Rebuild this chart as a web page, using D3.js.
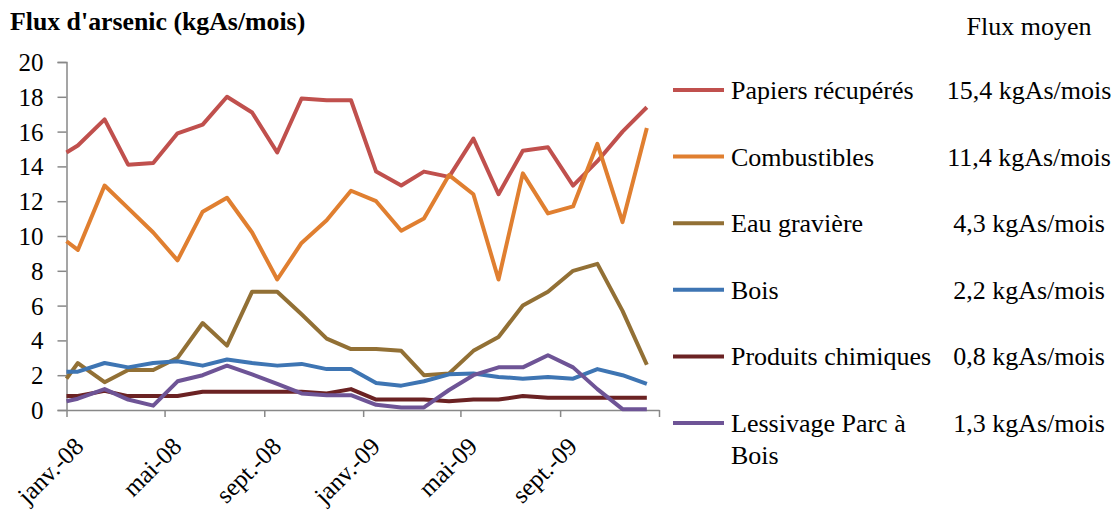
<!DOCTYPE html>
<html><head><meta charset="utf-8">
<script src="https://cdn.jsdelivr.net/npm/d3@7"></script>
<style>
body{margin:0;background:#fff;}
svg text{font-family:"Liberation Serif","Times New Roman",serif;fill:#000;}
</style></head>
<body><svg id="c" width="1120" height="517"></svg>
<script>
const dates = ["2008-01-01","2008-01-15","2008-02-17","2008-03-17","2008-04-17","2008-05-17","2008-06-17","2008-07-17","2008-08-17","2008-09-17","2008-10-17","2008-11-17","2008-12-17",
"2009-01-17","2009-02-17","2009-03-17","2009-04-17","2009-05-17","2009-06-17","2009-07-17","2009-08-17","2009-09-17","2009-10-17","2009-11-17","2009-12-17"];
const papiers = [14.8,15.2,16.7,14.1,14.2,15.9,16.4,18.0,17.1,14.8,17.9,17.8,17.8,13.7,12.9,13.7,13.4,15.6,12.4,14.9,15.1,12.9,14.3,16.0,17.4];
const combustibles = [9.7,9.2,12.9,11.6,10.2,8.6,11.4,12.2,10.2,7.5,9.6,10.9,12.6,12.0,10.3,11.0,13.5,12.4,7.5,13.6,11.3,11.7,15.3,10.8,16.2];
const eauGraviere = [1.8,2.7,1.6,2.3,2.3,3.0,5.0,3.7,6.8,6.8,5.5,4.1,3.5,3.5,3.4,2.0,2.1,3.4,4.2,6.0,6.8,8.0,8.4,5.7,2.6];
const bois = [2.2,2.2,2.7,2.45,2.7,2.8,2.55,2.9,2.7,2.55,2.65,2.35,2.35,1.55,1.4,1.65,2.05,2.1,1.9,1.8,1.9,1.8,2.35,2.0,1.5];
const produitsChimiques = [0.8,0.8,1.1,0.8,0.8,0.8,1.05,1.05,1.05,1.05,1.05,0.95,1.2,0.6,0.6,0.6,0.5,0.6,0.6,0.8,0.7,0.7,0.7,0.7,0.7];
const lessivage = [0.5,0.65,1.2,0.6,0.25,1.65,2.0,2.55,2.05,1.5,0.95,0.85,0.85,0.3,0.15,0.15,1.15,2.0,2.45,2.45,3.15,2.45,1.2,0.05,0.05];
const seriesNames = ["Papiers récupérés","Combustibles","Eau gravière","Bois","Produits chimiques","Lessivage Parc à Bois"];
const fluxMoyen = ["15,4 kgAs/mois","11,4 kgAs/mois","4,3 kgAs/mois","2,2 kgAs/mois","0,8 kgAs/mois","1,3 kgAs/mois"];
const colors = ["#C0504D","#E07F30","#927035","#3E75B3","#6B2223","#6E5496"];
const xTickDates = ["2008-01-01","2008-05-01","2008-09-01","2009-01-01","2009-05-01","2009-09-01","2010-01-01"];
const xTickLabels = ["janv.-08","mai-08","sept.-08","janv.-09","mai-09","sept.-09",""];
const yTicks = [0,2,4,6,8,10,12,14,16,18,20];

const seriesValues = [papiers,combustibles,eauGraviere,bois,produitsChimiques,lessivage];
const parse = d3.timeParse("%Y-%m-%d");
const svg = d3.select("#c");
const x = d3.scaleTime().domain([parse("2008-01-01"), parse("2010-01-01")]).range([66.5, 659]);
const y = d3.scaleLinear().domain([0,20]).range([410, 62]);

// Y axis
const yAxis = svg.append("g").attr("transform","translate(66.5,0)")
  .call(d3.axisLeft(y).tickValues(yTicks).tickSize(9).tickPadding(14).tickFormat(d3.format("d")));
yAxis.attr("font-family",null);
yAxis.select(".domain").attr("stroke","#888").attr("stroke-width",1.5);
yAxis.selectAll(".tick line").attr("stroke","#888").attr("stroke-width",1.5);
yAxis.selectAll(".tick text").attr("font-size","25px").attr("fill","#000").attr("dy","0.34em");

// X axis
const xAxis = svg.append("g").attr("transform","translate(0,410)")
  .call(d3.axisBottom(x).tickValues(xTickDates.map(parse)).tickSize(7).tickSizeOuter(0).tickFormat((d,i)=>xTickLabels[i]));
xAxis.attr("font-family",null);
xAxis.select(".domain").attr("stroke","#888").attr("stroke-width",1.5);
xAxis.selectAll(".tick line").attr("stroke","#888").attr("stroke-width",1.5);
xAxis.selectAll(".tick text")
  .attr("font-size","25px").attr("fill","#000")
  .attr("text-anchor","end").attr("y",0).attr("dy",0)
  .attr("transform","translate(18,38) rotate(-45)");

// Lines
const line = d3.line().x((d,i)=>x(parse(dates[i]))).y(d=>y(d));
seriesValues.forEach((vals,k)=>{
  svg.append("path").datum(vals).attr("d",line).attr("fill","none")
    .attr("stroke",colors[k]).attr("stroke-width",4).attr("stroke-linejoin","round");
});

// Title
svg.append("text").attr("x",10).attr("y",30).attr("font-size","25.8px").attr("font-weight","bold").text("Flux d'arsenic (kgAs/mois)");
svg.append("text").attr("x",1029).attr("y",35).attr("text-anchor","middle").attr("font-size","26px").text("Flux moyen");

// Legend
const leg0 = 90, legStep = 66.6;
seriesNames.forEach((name,k)=>{
  const cy = leg0 + k*legStep;
  svg.append("line").attr("x1",673).attr("x2",724).attr("y1",cy).attr("y2",cy)
    .attr("stroke",colors[k]).attr("stroke-width",4);
  const t = svg.append("text").attr("x",731).attr("y",cy+9).attr("font-size","26px");
  if (name === "Lessivage Parc à Bois") {
    t.append("tspan").attr("x",731).text("Lessivage Parc à");
    t.append("tspan").attr("x",731).attr("dy",31.5).text("Bois");
  } else t.text(name);
  svg.append("text").attr("x",1029).attr("y",cy+9).attr("text-anchor","middle").attr("font-size","26px").text(fluxMoyen[k]);
});
</script></body></html>
